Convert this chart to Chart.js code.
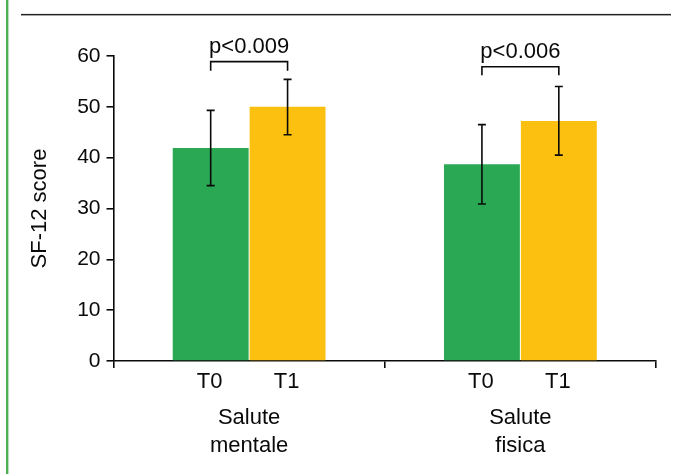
<!DOCTYPE html>
<html>
<head>
<meta charset="utf-8">
<script src="https://cdn.jsdelivr.net/npm/chart.js@4.4.1/dist/chart.umd.min.js"></script>
<style>
  html, body { margin: 0; padding: 0; background: #fff; }
  #wrap { position: relative; width: 679px; height: 474px; }
</style>
</head>
<body>
<div id="wrap"><canvas id="sf12" width="679" height="474"></canvas></div>
<script>
// Données
const groupLabels = [['Salute', 'mentale'], ['Salute', 'fisica']];
const seriesLabels = ['T0', 'T1'];
const t0Values = [41.9, 38.7];
const t1Values = [50.0, 47.2];
const t0Low = [34.5, 30.9];
const t0High = [49.3, 46.5];
const t1Low = [44.5, 40.5];
const t1High = [55.4, 54.0];
const pLabels = ['p<0.009', 'p<0.006'];
const bracketTop = [58.9, 57.9];
const bracketLeg = [57.1, 56.2];

const FONT = '"Liberation Sans", Arial, Helvetica, sans-serif';
const INK = '#0a0a0a';

// Barres d'erreur, crochets, étiquettes T0/T1 et décor de la page
const extras = {
    id: 'extras',
    beforeDraw(chart) {
        const ctx = chart.ctx;
        ctx.save();
        ctx.fillStyle = '#4caf50';
        ctx.fillRect(6, 0, 2.4, chart.height);
        ctx.fillStyle = '#222';
        ctx.fillRect(21, 13.9, 650, 1.5);
        ctx.restore();
    },
    afterDatasetsDraw(chart) {
        const ctx = chart.ctx;
        const y = chart.scales.y;
        ctx.save();
        ctx.strokeStyle = INK;
        ctx.fillStyle = INK;
        ctx.lineWidth = 1.6;
        ctx.font = '22px ' + FONT;
        ctx.textAlign = 'center';

        chart.data.datasets.forEach((ds, di) => {
            const meta = chart.getDatasetMeta(di);
            meta.data.forEach((bar, i) => {
                const lo = y.getPixelForValue(ds.errLow[i]);
                const hi = y.getPixelForValue(ds.errHigh[i]);
                ctx.beginPath();
                ctx.moveTo(bar.x, lo); ctx.lineTo(bar.x, hi);
                ctx.moveTo(bar.x - 4, lo); ctx.lineTo(bar.x + 4, lo);
                ctx.moveTo(bar.x - 4, hi); ctx.lineTo(bar.x + 4, hi);
                ctx.stroke();
                ctx.textBaseline = 'middle';
                ctx.fillText(ds.label, bar.x - 1, chart.chartArea.bottom + 20.5);
            });
        });

        const m0 = chart.getDatasetMeta(0);
        const m1 = chart.getDatasetMeta(1);
        pLabels.forEach((p, i) => {
            const x0 = m0.data[i].x;
            const x1 = m1.data[i].x;
            const top = y.getPixelForValue(bracketTop[i]);
            const leg = y.getPixelForValue(bracketLeg[i]);
            ctx.beginPath();
            ctx.moveTo(x0, leg); ctx.lineTo(x0, top);
            ctx.lineTo(x1, top); ctx.lineTo(x1, leg);
            ctx.stroke();
            ctx.textBaseline = 'alphabetic';
            ctx.fillText(p, (x0 + x1) / 2, top - 8.5);
        });
        ctx.restore();
    }
};

new Chart(document.getElementById('sf12'), {
    type: 'bar',
    data: {
        labels: groupLabels,
        datasets: [
            {
                label: seriesLabels[0],
                data: t0Values,
                errLow: t0Low,
                errHigh: t0High,
                backgroundColor: '#2ba853',
                categoryPercentage: 0.567,
                barPercentage: 0.987
            },
            {
                label: seriesLabels[1],
                data: t1Values,
                errLow: t1Low,
                errHigh: t1High,
                backgroundColor: '#fbc010',
                categoryPercentage: 0.567,
                barPercentage: 0.987
            }
        ]
    },
    options: {
        responsive: false,
        animation: false,
        devicePixelRatio: 1,
        layout: { padding: { left: 0, right: 23, top: 56, bottom: 0 } },
        plugins: {
            legend: { display: false },
            tooltip: { enabled: false }
        },
        scales: {
            x: {
                offset: true,
                grid: {
                    offset: true,
                    drawOnChartArea: false,
                    drawTicks: true,
                    tickLength: 7,
                    color: INK,
                    lineWidth: 1.6
                },
                border: { display: true, color: INK, width: 1.6 },
                ticks: {
                    color: INK,
                    padding: 35.5,
                    font: { family: FONT, size: 22, lineHeight: 1.3 }
                },
                afterFit(scale) { scale.height = 113; }
            },
            y: {
                min: 0,
                max: 60,
                ticks: {
                    stepSize: 10,
                    color: INK,
                    padding: 6,
                    font: { family: FONT, size: 21 }
                },
                grid: {
                    drawOnChartArea: false,
                    drawTicks: true,
                    tickLength: 7,
                    color: INK,
                    lineWidth: 1.6
                },
                border: { display: true, color: INK, width: 1.6 },
                title: {
                    display: true,
                    text: 'SF-12 score',
                    color: INK,
                    padding: { top: 27, bottom: 0 },
                    font: { family: FONT, size: 22 }
                },
                afterFit(scale) { scale.width = 113.5; }
            }
        }
    },
    plugins: [extras]
});
</script>
</body>
</html>
